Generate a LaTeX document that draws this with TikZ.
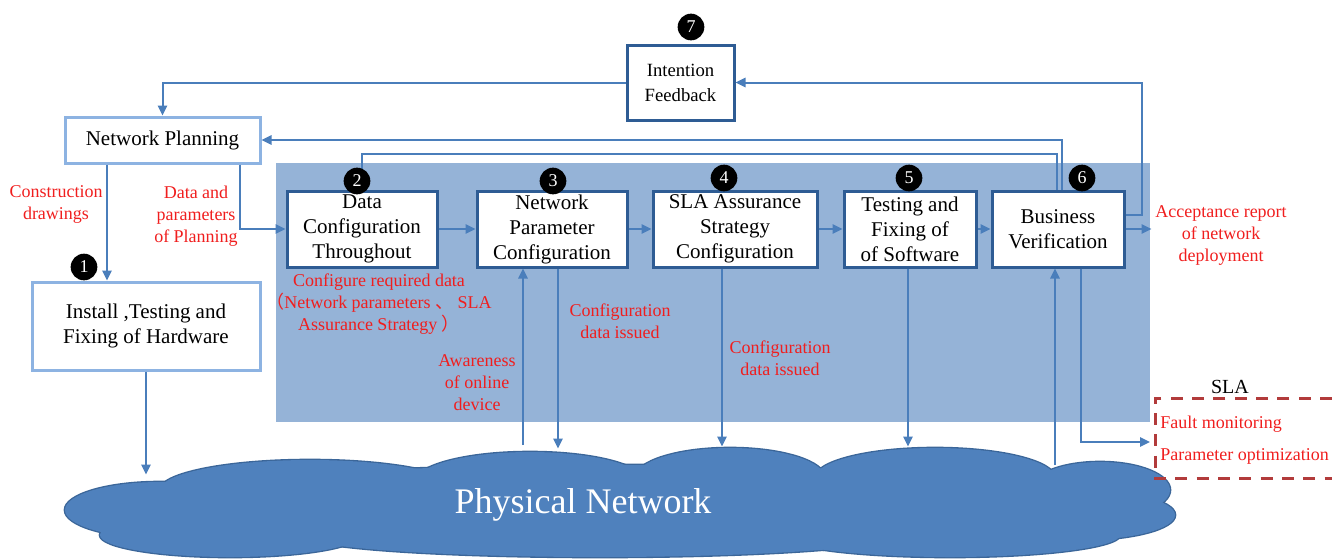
\documentclass[tikz,border=0pt]{standalone}
\usepackage{fontspec}
\setmainfont{Liberation Serif}
\newfontfamily\cjkfont{Noto Sans CJK SC}
\usetikzlibrary{arrows.meta,calc}
\definecolor{bgblue}{HTML}{95B3D7}
\definecolor{lightborder}{HTML}{8DB3E2}
\definecolor{darkborder}{HTML}{2E5C94}
\definecolor{arrblue}{HTML}{4A7EBB}
\definecolor{cloudfill}{HTML}{4F81BD}
\definecolor{cloudline}{HTML}{3B6699}
\definecolor{lblred}{HTML}{F01E1E}
\definecolor{slared}{HTML}{B23B3B}
\begin{document}
\begin{tikzpicture}[x=0.75pt,y=-0.75pt,
  boxtxt/.style={font=\fontsize{15.75}{18.75}\selectfont, align=center, inner sep=0pt, fill=white},
  lightbox/.style={boxtxt, draw=lightborder, line width=2.25pt},
  darkbox/.style={boxtxt, draw=darkborder, line width=2.25pt},
  conn/.style={draw=arrblue, line width=1.5pt},
  arr/.style={conn, -{Triangle[length=7.5pt,width=7pt]}},
  lbl/.style={text=lblred, font=\fontsize{13.5}{16.5}\selectfont, align=center, inner sep=0pt},
  num/.style={circle, fill=black, text=white, minimum size=20pt, inner sep=0pt, font=\fontsize{13.5}{13.5}\selectfont},
  lobe/.style={fill=cloudfill},
]
\useasboundingbox (0,0) rectangle (1332,558);
% background panel
\fill[bgblue] (276,163) rectangle (1150,422);

% cloud: outline pass then fill pass
\begin{scope}[draw=cloudline, line width=2pt]
\foreach \cx/\cy/\rx/\ry in {310/490/112.5/22.5, 530/482/86.25/22.5, 730/478/71.25/22.5, 935/478/90/22.5, 1100/490/52.5/21, 1080/515/71.25/18.75, 160/510/71.25/21, 230/535/97.5/16.5, 600/535/225/16.5, 950/535/127.5/16.5, 620/505/375/30}
  \filldraw[lobe] (\cx,\cy) ellipse [x radius=\rx pt, y radius=\ry pt];
\foreach \cx/\cy/\rx/\ry in {310/490/112.5/22.5, 530/482/86.25/22.5, 730/478/71.25/22.5, 935/478/90/22.5, 1100/490/52.5/21, 1080/515/71.25/18.75, 160/510/71.25/21, 230/535/97.5/16.5, 600/535/225/16.5, 950/535/127.5/16.5, 620/505/375/30}
  \fill[lobe] (\cx,\cy) ellipse [x radius=\rx pt, y radius=\ry pt];
\end{scope}
\node[text=white, font=\fontsize{27}{30}\selectfont, inner sep=0pt] (pn) at (583,505) {Physical Network};

% boxes
\node[lightbox, minimum width=146.25pt, minimum height=34.5pt] (NP) at (162.5,140) {Network Planning};
\node[lightbox, minimum width=171pt, minimum height=66pt] (HW) at (146,326) {Install ,Testing and\\Fixing of Hardware};
\node[darkbox, minimum width=80.25pt, minimum height=56.25pt, font=\fontsize{14}{18.75}\selectfont] (IF) at (680.5,82.5) {Intention\\Feedback};
\node[darkbox, minimum width=112.5pt, minimum height=57pt] (B2) at (362,229) {Data\\Configuration\\Throughout};
\node[darkbox, minimum width=112.5pt, minimum height=57pt] (B3) at (552,229) {Network\\Parameter\\Configuration};
\node[darkbox, minimum width=123pt, minimum height=57pt] (B4) at (735,229) {SLA Assurance\\Strategy\\Configuration};
\node[darkbox, minimum width=99pt, minimum height=57pt] (B5) at (910,229) {Testing and\\Fixing of\\of Software};
\node[darkbox, minimum width=99pt, minimum height=57pt] (B6) at (1058,229) {Business\\Verification};

% SLA box
\node[font=\fontsize{15}{18}\selectfont, inner sep=0pt] (slat) at (1230,387) {SLA};
\draw[slared, line width=2.25pt, dash pattern=on 9pt off 7pt] (1332,398) -- (1155,398) -- (1155,478) -- (1332,478);
\coordinate (slain) at (1150,442);
\node[lbl, anchor=west] (fm) at (1160,424) {Fault monitoring};
\node[lbl, anchor=west] (po) at (1160,456) {Parameter optimization};

% connectors
\draw[arr] (IF.west) -| (NP.north);
\draw[arr] ([yshift=10.5pt]B6.east) -- ++(16,0) |- (IF.east);
\draw[arr] ([xshift=3pt]B6.north) |- (NP.east);
\draw[conn] ([xshift=-0.75pt]B6.north) |- ($(B2.north)+(0,-36)$) -- (B2.north);
\draw[arr] (NP.south -| 107,0) -- (HW.north -| 107,0);
\draw[arr] (NP.south -| 240,0) |- (B2.west);
\draw[arr] (B2.east) -- (B3.west);
\draw[arr] (B3.east) -- (B4.west);
\draw[arr] (B4.east) -- (B5.west);
\draw[arr] (B5.east) -- (B6.west);
\draw[arr] (B6.east) -- ++(26,0) coordinate (acc);
\draw[arr] (HW.south) -- ++(0,103) coordinate (hwc);
\coordinate (aw) at (523,445);
\draw[arr] (aw) -- (B3.south -| aw);
\draw[arr] (B3.south -| 558,0) -- ++(0,180) coordinate (c3);
\draw[arr] (B4.south -| 722,0) -- ++(0,178) coordinate (c4);
\draw[arr] (B5.south -| 908,0) -- ++(0,178) coordinate (c5);
\coordinate (bv) at (1055,465);
\draw[arr] (bv) -- (B6.south -| bv);
\draw[arr] (B6.south -| 1081,0) |- (slain);

% numbered circles
\node[num] (n7) at (691,27) {7};
\node[num] (n2) at (357,181) {2};
\node[num] (n3) at (553,181) {3};
\node[num] (n4) at (724,178) {4};
\node[num] (n5) at (909,178) {5};
\node[num] (n6) at (1082,178) {6};
\node[num] (n1) at (84,267) {1};

% red labels
\node[lbl] (l1) at (56,204) {Construction\\drawings};
\node[lbl] (l2) at (196,216) {Data and\\parameters\\of Planning};
\node[lbl] (l3) at (379,304) {Configure required data\\{\cjkfont （}Network parameters {\cjkfont 、} SLA\\Assurance Strategy {\cjkfont ）}};
\node[lbl] (l4) at (620,321) {Configuration\\data issued};
\node[lbl] (l5) at (780,358) {Configuration\\data issued};
\node[lbl] (l6) at (477,383) {Awareness\\of online\\device};
\node[lbl] (l7) at (1221,235) {Acceptance report\\of network\\deployment};
\end{tikzpicture}
\end{document}
